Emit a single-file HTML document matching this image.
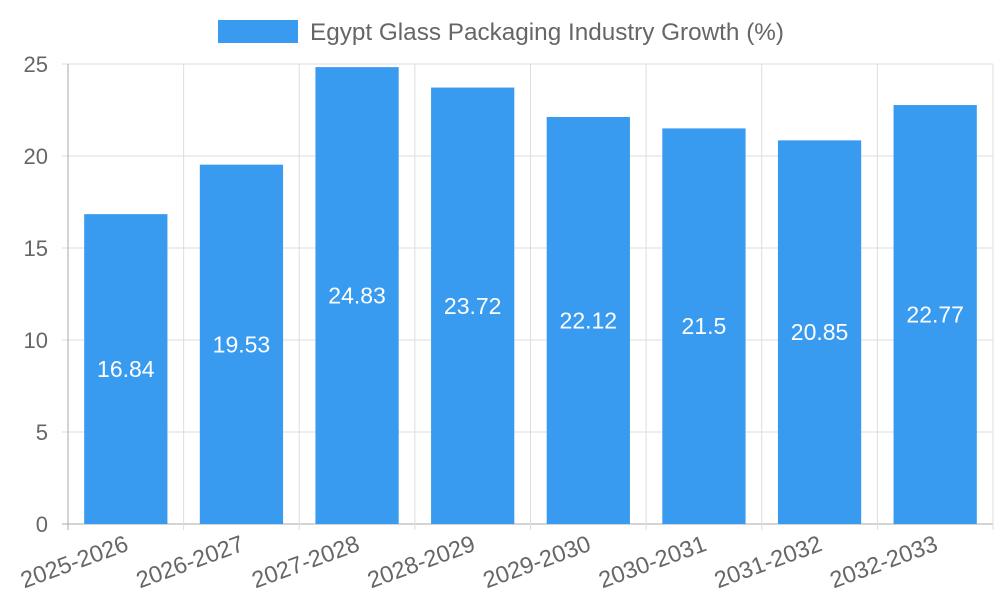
<!DOCTYPE html>
<html><head><meta charset="utf-8"><style>
html,body{margin:0;padding:0;background:#fff;width:1000px;height:600px;overflow:hidden}
svg{display:block;font-family:"Liberation Sans",sans-serif}
</style></head><body>
<svg id="chart" width="1000" height="600">
<g>
<rect x="218" y="20" width="80" height="23" fill="#389bf0"></rect>
<text x="310" y="40" font-size="24.3" fill="#666">Egypt Glass Packaging Industry Growth (%)</text>
</g>
<g id="grid"></g>
<g id="bars"></g>
<g id="axes"></g>
</svg>
<script>
const categories=["2025-2026","2026-2027","2027-2028","2028-2029","2029-2030","2030-2031","2031-2032","2032-2033"];
const values=[16.84,19.53,24.83,23.72,22.12,21.5,20.85,22.77];
const valueLabels=["16.84","19.53","24.83","23.72","22.12","21.5","20.85","22.77"];
const yTicks=[0,5,10,15,20,25];
const NS="http://www.w3.org/2000/svg";
const L=68,R=993,T=64,B=524,YMAX=25;
const bw=(R-L)/categories.length;
const y=v=>B-(v/YMAX)*(B-T);
const x=i=>L+i*bw;
function mk(tag,attrs,parent,txt){const e=document.createElementNS(NS,tag);for(const k in attrs)e.setAttribute(k,attrs[k]);if(txt!==undefined)e.textContent=txt;document.getElementById(parent).appendChild(e);return e;}
yTicks.forEach(t=>{
 const g=mk('line',{x1:L-6,x2:R,y1:y(t),y2:y(t),stroke:t===0?'#aaa':'#ddd','stroke-width':1},'grid');
 
 
 const lb=mk('text',{x:L-20,y:y(t)+8,'text-anchor':'end','font-size':22,fill:'#666'},'axes',String(t));
 
 
});
for(let i=0;i<=categories.length;i++){
 const g=mk('line',{x1:x(i),x2:x(i),y1:T,y2:B+6,stroke:i===0?'#aaa':'#ddd','stroke-width':1},'grid');
 
 
}
categories.forEach((c,i)=>{
 const w=bw*0.72, cx=x(i)+bw/2;
 const r=mk('rect',{x:cx-w/2,y:y(values[i]),width:w,height:B-y(values[i]),fill:'#389bf0'},'bars');
 
 
 const vl=mk('text',{x:cx,y:(y(values[i])+B)/2+8,'text-anchor':'middle','font-size':23,fill:'#fff'},'bars',valueLabels[i]);
 
 
 const ax=cx+4, ay=B+26;
 const xl=mk('text',{x:ax,y:ay,'text-anchor':'end','font-size':23.5,fill:'#666',transform:`rotate(-20 ${ax} ${ay})`},'axes',c);
 
 
});
</script>
</body></html>
